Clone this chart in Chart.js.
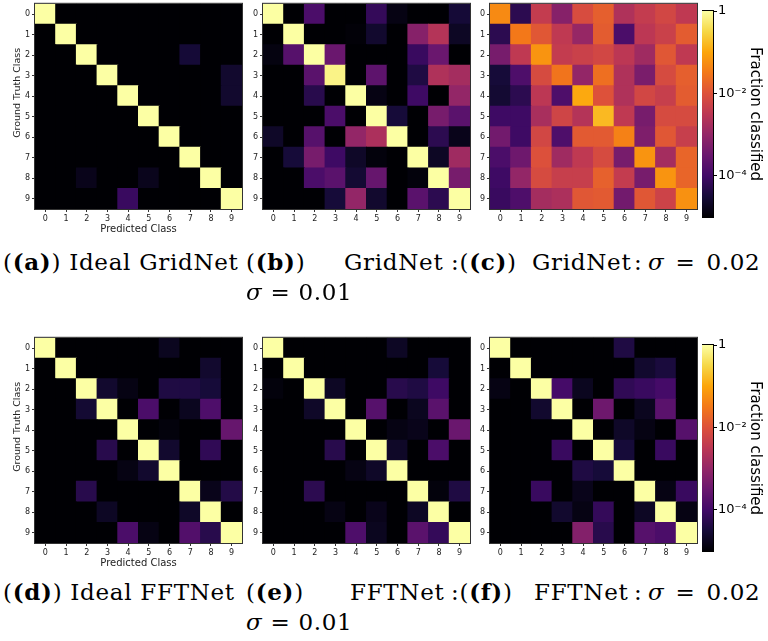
<!DOCTYPE html>
<html>
<head>
<meta charset="utf-8">
<script src="https://cdn.jsdelivr.net/npm/chart.js@4.4.0/dist/chart.umd.min.js"></script>
<style>
  body { margin: 0; width: 768px; height: 641px; background: #fff; position: relative; overflow: hidden; }
  canvas { position: absolute; }
  .cap { position: absolute; font-family: "DejaVu Serif", serif; font-size: 23px; line-height: 24px; letter-spacing: 0.7px; color: #000; white-space: nowrap; }
  .math { word-spacing: 3px; }
</style>
</head>
<body>

<canvas id="panelA" width="245" height="242" style="left:0px;top:-3px"></canvas>
<canvas id="panelB" width="230" height="226" style="left:243px;top:-3px"></canvas>
<canvas id="panelC" width="230" height="226" style="left:470px;top:-3px"></canvas>
<canvas id="cbarTop" width="66" height="226" style="left:702px;top:1px"></canvas>

<canvas id="panelD" width="245" height="242" style="left:0px;top:331px"></canvas>
<canvas id="panelE" width="230" height="226" style="left:243px;top:331px"></canvas>
<canvas id="panelF" width="230" height="226" style="left:470px;top:331px"></canvas>
<canvas id="cbarBottom" width="66" height="226" style="left:702px;top:335px"></canvas>

<div class="cap" style="left:3px;top:250px">(<b>(a)</b>) Ideal GridNet</div>
<div class="cap" style="left:246px;top:250px">(<b>(b)</b>)</div>
<div class="cap" style="left:344px;top:250px">GridNet</div>
<div class="cap" style="left:451px;top:250px">:(<b>(c)</b>)</div>
<div class="cap" style="left:532px;top:250px">GridNet</div>
<div class="cap" style="left:634px;top:250px">:</div>
<div class="cap math" style="left:648px;top:250px"><i>σ</i> = 0.02</div>
<div class="cap" style="left:246px;top:280px"><i>σ</i> = 0.01</div>

<div class="cap" style="left:3px;top:580px">(<b>(d)</b>) Ideal FFTNet</div>
<div class="cap" style="left:246px;top:580px">(<b>(e)</b>)</div>
<div class="cap" style="left:350px;top:580px">FFTNet</div>
<div class="cap" style="left:451px;top:580px">:(<b>(f)</b>)</div>
<div class="cap" style="left:534px;top:580px">FFTNet</div>
<div class="cap" style="left:634px;top:580px">:</div>
<div class="cap math" style="left:648px;top:580px"><i>σ</i> = 0.02</div>
<div class="cap" style="left:246px;top:610px"><i>σ</i> = 0.01</div>

<script>
// Class labels (both axes)
const classes = ['0', '1', '2', '3', '4', '5', '6', '7', '8', '9'];

// Confusion matrices: rows = ground truth class, columns = predicted class (fraction classified)
const idealGridNet = [
    [1, 0, 0, 0, 0, 0, 0, 0, 0, 0],
    [0, 1, 0, 0, 0, 0, 0, 0, 0, 0],
    [0, 0, 1, 0, 0, 0, 0, 3e-5, 0, 0],
    [0, 0, 0, 1, 0, 0, 0, 0, 0, 2.5e-5],
    [0, 0, 0, 0, 1, 0, 0, 0, 0, 2.5e-5],
    [0, 0, 0, 0, 0, 1, 0, 0, 0, 0],
    [0, 0, 0, 0, 0, 0, 1, 0, 0, 0],
    [0, 0, 0, 0, 0, 0, 0, 1, 0, 0],
    [0, 0, 1.6e-5, 0, 0, 1.7e-5, 0, 0, 1, 0],
    [0, 0, 0, 0, 8e-5, 0, 0, 0, 0, 1]
];

const gridNet001 = [
    [0.99, 0, 1.3e-4, 0, 0, 7e-5, 1.4e-5, 0, 0, 3e-5],
    [0, 0.99, 0, 0, 1.1e-5, 2.5e-5, 0, 7e-4, 2.5e-3, 2e-5],
    [1.3e-5, 1.8e-4, 0.99, 3.2e-4, 0, 0, 0, 8e-5, 3.2e-4, 0],
    [0, 0, 2e-4, 0.7, 0, 2.2e-4, 0, 4e-5, 2.2e-3, 1.6e-3],
    [0, 0, 5e-5, 0, 0.99, 1.4e-5, 0, 9e-5, 0, 1e-3],
    [0, 0, 0, 1.3e-4, 0, 0.99, 3.2e-5, 0, 4.5e-4, 2e-4],
    [2.2e-5, 0, 1.8e-4, 0, 1e-3, 2e-3, 0.99, 0, 5.6e-5, 1.6e-5],
    [0, 3.2e-5, 4.5e-4, 9e-5, 2.2e-5, 1.2e-5, 0, 0.99, 2e-5, 1.4e-3],
    [0, 0, 1.3e-4, 2e-4, 2.8e-5, 2.8e-4, 0, 1.2e-5, 0.99, 4.5e-4],
    [0, 0, 0, 3.2e-5, 1e-3, 2.5e-5, 0, 2e-4, 5.6e-5, 0.99]
];

const gridNet002 = [
    [5e-2, 5.6e-5, 4e-3, 7e-4, 8e-3, 1.5e-2, 2.2e-3, 4e-3, 6.5e-3, 3.5e-3],
    [5.6e-5, 3.2e-2, 1.2e-2, 3.5e-3, 1.1e-3, 1.4e-2, 1.3e-4, 3.2e-3, 5e-3, 1.4e-2],
    [4.5e-4, 3.5e-3, 6.5e-2, 4e-3, 5e-3, 6.5e-3, 3.2e-3, 1.4e-3, 1.2e-2, 3.5e-3],
    [3.2e-5, 1.4e-4, 7.5e-3, 2.8e-2, 1e-3, 2.4e-2, 2.2e-3, 5e-4, 7.5e-3, 1.5e-2],
    [2.8e-5, 5.6e-5, 3.2e-3, 1.4e-4, 0.11, 1e-2, 2.2e-3, 6.5e-3, 4.5e-3, 1.4e-2],
    [9e-5, 9e-5, 1.8e-3, 6e-3, 2.5e-3, 0.16, 3.5e-3, 4.5e-4, 7.5e-3, 7.5e-3],
    [4e-4, 9e-5, 6.5e-3, 1.4e-4, 1.3e-2, 1.3e-2, 4e-2, 5.6e-4, 1.2e-2, 4.5e-3],
    [1.3e-4, 3.5e-4, 9.5e-3, 1.4e-3, 3.5e-3, 7.5e-3, 4.5e-4, 6.5e-2, 1.6e-3, 1.8e-2],
    [9e-5, 1e-3, 7.5e-3, 4.5e-3, 4.5e-3, 1.6e-2, 4e-3, 4.5e-4, 6.5e-2, 1.8e-2],
    [8e-5, 1.4e-4, 1.6e-3, 2e-3, 1.2e-2, 1.3e-2, 4e-4, 1.2e-2, 5.5e-3, 6e-2]
];

const idealFFTNet = [
    [1, 0, 0, 0, 0, 0, 1.8e-5, 0, 0, 0],
    [0, 1, 0, 0, 0, 0, 0, 0, 2.5e-5, 0],
    [0, 0, 1, 2.5e-5, 1.4e-5, 0, 4e-5, 4e-5, 3.2e-5, 0],
    [0, 0, 2.8e-5, 1, 0, 1.3e-4, 0, 1.8e-5, 1.4e-4, 0],
    [0, 0, 0, 0, 1, 0, 1.2e-5, 0, 0, 2.8e-4],
    [0, 0, 0, 5e-5, 0, 1, 2.5e-5, 0, 6.3e-5, 0],
    [0, 0, 0, 0, 1.4e-5, 2.5e-5, 1, 0, 0, 0],
    [0, 0, 5e-5, 0, 0, 0, 0, 1, 1.6e-5, 4.5e-5],
    [0, 0, 0, 2e-5, 0, 0, 0, 2.2e-5, 1, 0],
    [0, 0, 0, 0, 1.3e-4, 1.4e-5, 0, 1.6e-4, 5e-5, 1]
];

const fftNet001 = [
    [1, 0, 0, 0, 0, 0, 2e-5, 0, 0, 0],
    [0, 1, 0, 0, 0, 0, 0, 0, 3.2e-5, 0],
    [1.2e-5, 0, 1, 2e-5, 0, 0, 5e-5, 4e-5, 9e-5, 0],
    [0, 0, 2.2e-5, 1, 0, 1.8e-4, 0, 1.8e-5, 2e-4, 0],
    [0, 0, 0, 0, 1, 0, 1.4e-5, 1.6e-5, 0, 3.2e-4],
    [0, 0, 0, 5e-5, 0, 1, 2.2e-5, 0, 1.3e-4, 0],
    [0, 0, 0, 0, 1.4e-5, 2.2e-5, 1, 0, 0, 0],
    [0, 0, 5.6e-5, 0, 0, 0, 0, 1, 1.2e-5, 4e-5],
    [0, 0, 0, 1.4e-5, 0, 1.6e-5, 0, 2e-5, 1, 0],
    [0, 0, 0, 0, 1.4e-4, 1.8e-5, 0, 2e-4, 7e-5, 1]
];

const fftNet002 = [
    [1, 0, 0, 0, 0, 0, 4e-5, 0, 0, 0],
    [0, 1, 0, 0, 0, 0, 0, 2.5e-5, 3.5e-5, 0],
    [1.4e-5, 0, 1, 1.1e-4, 1.8e-5, 0, 6.3e-5, 8e-5, 1.1e-4, 0],
    [0, 0, 2.5e-5, 1, 0, 3.5e-4, 0, 1.8e-5, 2e-4, 0],
    [0, 0, 0, 0, 1, 0, 2.2e-5, 1.4e-5, 0, 1.8e-4],
    [0, 0, 0, 8e-5, 0, 1, 3.2e-5, 0, 8e-5, 0],
    [0, 0, 0, 0, 4e-5, 3.2e-5, 1, 0, 0, 0],
    [0, 0, 8e-5, 0, 1.6e-5, 0, 0, 1, 1.4e-5, 8e-5],
    [0, 0, 0, 2.5e-5, 1.4e-5, 7e-5, 0, 2e-5, 1, 1.4e-5],
    [0, 0, 0, 0, 6.3e-4, 5e-5, 0, 1.8e-4, 1.3e-4, 1]
];

// Colour bar (log scale)
const cbarRange = [1e-5, 1];
const cbarTicks = [1, 1e-2, 1e-4];
const cbarTickLabels = ['1', '10⁻²', '10⁻⁴'];

// inferno colormap, sampled at t = 0, 0.1, ..., 1
const infernoStops = ['#000004', '#160b39', '#420a68', '#6a176e', '#932667', '#bc3754',
    '#dd513a', '#f37819', '#fca50a', '#f6d746', '#fcffa4'];

function hexToRgb(h) {
    return [parseInt(h.slice(1, 3), 16), parseInt(h.slice(3, 5), 16), parseInt(h.slice(5, 7), 16)];
}

function inferno(t) {
    t = Math.min(1, Math.max(0, t));
    const pos = t * (infernoStops.length - 1);
    const i = Math.min(Math.floor(pos), infernoStops.length - 2);
    const f = pos - i;
    const a = hexToRgb(infernoStops[i]);
    const b = hexToRgb(infernoStops[i + 1]);
    const c = a.map((v, k) => Math.round(v + (b[k] - v) * f));
    return `rgb(${c[0]}, ${c[1]}, ${c[2]})`;
}

// log normalisation matching the colour bar
function cellColor(v) {
    if (!(v > 0)) return infernoStops[0];
    const lo = Math.log10(cbarRange[0]);
    const hi = Math.log10(cbarRange[1]);
    return inferno((Math.log10(v) - lo) / (hi - lo));
}

function toPoints(matrix) {
    const pts = [];
    matrix.forEach((row, r) => {
        row.forEach((v, c) => pts.push({ x: c, y: r, v: v }));
    });
    return pts;
}

// square cell size taken from the x scale (rect side = radius * sqrt(2)), slight overlap to hide seams
function cellRadius(ctx) {
    const xs = ctx.chart.scales.x;
    const w = Math.abs(xs.getPixelForValue(1) - xs.getPixelForValue(0));
    return w / Math.SQRT2 + 0.7;
}

// dark fill under the cells + all four spines like matplotlib
const framePlugin = {
    id: 'frame',
    beforeDatasetsDraw(chart, args, opts) {
        if (!opts.fill) return;
        const { ctx, chartArea: a } = chart;
        ctx.save();
        ctx.fillStyle = opts.fill;
        ctx.fillRect(a.left, a.top, a.right - a.left, a.bottom - a.top);
        ctx.restore();
    },
    afterDatasetsDraw(chart, args, opts) {
        const { ctx, chartArea: a } = chart;
        ctx.save();
        ctx.strokeStyle = opts.color || '#333';
        ctx.lineWidth = 1;
        ctx.strokeRect(a.left - 0.5, a.top - 0.5, a.right - a.left + 1, a.bottom - a.top + 1);
        ctx.restore();
    }
};

const tickFont = { family: 'DejaVu Sans', size: 8 };

function drawPanel(canvasId, matrix, withTitles) {
    const yAxisWidth = withTitles ? 35 : 20;
    const xAxisHeight = withTitles ? 30 : 14;

    new Chart(document.getElementById(canvasId), {
        type: 'scatter',
        data: {
            datasets: [{
                data: toPoints(matrix),
                pointStyle: 'rect',
                pointRadius: cellRadius,
                pointHoverRadius: cellRadius,
                pointBorderWidth: 0,
                pointHoverBorderWidth: 0,
                pointBackgroundColor: ctx => cellColor(ctx.raw.v),
                pointHoverBackgroundColor: ctx => cellColor(ctx.raw.v),
                pointBorderColor: 'rgba(0,0,0,0)',
                clip: 0
            }]
        },
        options: {
            responsive: false,
            animation: false,
            events: [],
            layout: { padding: { top: 6, right: 3, left: 0, bottom: 0 } },
            plugins: {
                legend: { display: false },
                tooltip: { enabled: false },
                frame: { color: '#333', fill: infernoStops[0] }
            },
            scales: {
                x: {
                    type: 'linear',
                    min: -0.5,
                    max: 9.5,
                    afterBuildTicks: s => { s.ticks = classes.map((c, i) => ({ value: i })); },
                    afterFit: s => { s.height = xAxisHeight; },
                    ticks: {
                        callback: (v, i) => classes[i],
                        font: tickFont,
                        color: '#222',
                        padding: 2,
                        maxRotation: 0,
                        autoSkip: false
                    },
                    grid: { drawOnChartArea: false, tickLength: 3, color: '#333' },
                    border: { display: false },
                    title: {
                        display: withTitles,
                        text: 'Predicted Class',
                        font: { family: 'DejaVu Sans', size: 10 },
                        color: '#222',
                        padding: { top: 0, bottom: 4 }
                    }
                },
                y: {
                    type: 'linear',
                    reverse: true,
                    min: -0.5,
                    max: 9.5,
                    afterBuildTicks: s => { s.ticks = classes.map((c, i) => ({ value: i })); },
                    afterFit: s => { s.width = yAxisWidth; },
                    ticks: {
                        callback: (v, i) => classes[i],
                        font: tickFont,
                        color: '#222',
                        padding: 2,
                        autoSkip: false
                    },
                    grid: { drawOnChartArea: false, tickLength: 3, color: '#333' },
                    border: { display: false },
                    title: {
                        display: withTitles,
                        // leading no-break spaces lift the label a little, as in the original figure
                        text: '\u00a0\u00a0\u00a0\u00a0\u00a0\u00a0\u00a0\u00a0\u00a0Ground Truth Class',
                        font: { family: 'DejaVu Sans', size: 9.5 },
                        color: '#222',
                        padding: { top: 12, bottom: 0 }
                    }
                }
            }
        },
        plugins: [framePlugin]
    });
}

function gradientFill(ctx) {
    const area = ctx.chart.chartArea;
    if (!area) return infernoStops[0];
    const g = ctx.chart.ctx.createLinearGradient(0, area.bottom, 0, area.top);
    infernoStops.forEach((c, i) => g.addColorStop(i / (infernoStops.length - 1), c));
    return g;
}

function drawColorbar(canvasId) {
    new Chart(document.getElementById(canvasId), {
        type: 'bar',
        data: {
            labels: [''],
            datasets: [{
                data: [[cbarRange[0], cbarRange[1]]],
                backgroundColor: gradientFill,
                borderWidth: 0,
                barPercentage: 1,
                categoryPercentage: 1
            }]
        },
        options: {
            responsive: false,
            animation: false,
            events: [],
            layout: { padding: { top: 10, bottom: 10, left: 0, right: 0 } },
            plugins: {
                legend: { display: false },
                tooltip: { enabled: false },
                frame: { color: '#000' }
            },
            scales: {
                x: { display: false },
                y: {
                    type: 'logarithmic',
                    position: 'right',
                    min: cbarRange[0],
                    max: cbarRange[1],
                    afterBuildTicks: s => { s.ticks = cbarTicks.map(v => ({ value: v })); },
                    afterFit: s => { s.width = 55; },
                    ticks: {
                        callback: (v, i) => cbarTickLabels[i],
                        font: { family: 'DejaVu Sans', size: 13 },
                        color: '#000',
                        padding: 1
                    },
                    grid: { drawOnChartArea: false, tickLength: 4, color: '#000' },
                    border: { display: false },
                    title: {
                        display: true,
                        text: 'Fraction classified',
                        font: { family: 'DejaVu Sans', size: 15 },
                        color: '#000',
                        padding: { top: 4, bottom: 0 }
                    }
                }
            }
        },
        plugins: [framePlugin]
    });
}

drawPanel('panelA', idealGridNet, true);
drawPanel('panelB', gridNet001, false);
drawPanel('panelC', gridNet002, false);
drawColorbar('cbarTop');

drawPanel('panelD', idealFFTNet, true);
drawPanel('panelE', fftNet001, false);
drawPanel('panelF', fftNet002, false);
drawColorbar('cbarBottom');
</script>
</body>
</html>
